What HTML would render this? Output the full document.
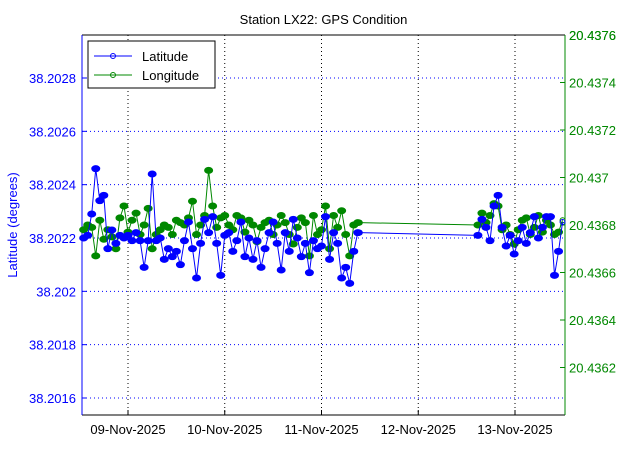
<!DOCTYPE html>
<html><head><meta charset="utf-8"><style>
body{margin:0;background:#fff;}
svg text{font-family:"Liberation Sans",sans-serif;font-size:13px;}
</style></head><body>
<svg id="c" width="623" height="466" xmlns="http://www.w3.org/2000/svg"></svg>
<script>
const latA=[38.20220,38.20221,38.20229,38.20246,38.20234,38.20236,38.20216,38.20223,38.20218,38.20221,38.20220,38.20221,38.20219,38.20222,38.20219,38.20209,38.20219,38.20244,38.20219,38.20220,38.20212,38.20216,38.20213,38.20215,38.20210,38.20219,38.20226,38.20216,38.20205,38.20218,38.20227,38.20222,38.20228,38.20218,38.20206,38.20221,38.20222,38.20215,38.20219,38.20226,38.20213,38.20220,38.20212,38.20219,38.20209,38.20216,38.20222,38.20226,38.20218,38.20208,38.20222,38.20215,38.20227,38.20220,38.20213,38.20218,38.20207,38.20219,38.20216,38.20217,38.20228,38.20212,38.20222,38.20218,38.20205,38.20209,38.20203,38.20215,38.20222];
const lonA=[20.43678,20.43680,20.43679,20.43667,20.43682,20.43674,20.43678,20.43675,20.43670,20.43683,20.43688,20.43677,20.43682,20.43685,20.43676,20.43680,20.43687,20.43670,20.43676,20.43678,20.43680,20.43679,20.43676,20.43682,20.43681,20.43680,20.43683,20.43690,20.43676,20.43680,20.43684,20.43703,20.43688,20.43679,20.43683,20.43684,20.43680,20.43678,20.43684,20.43683,20.43677,20.43682,20.43680,20.43673,20.43679,20.43681,20.43682,20.43676,20.43680,20.43684,20.43681,20.43676,20.43672,20.43679,20.43683,20.43681,20.43667,20.43684,20.43676,20.43678,20.43688,20.43670,20.43684,20.43679,20.43686,20.43676,20.43667,20.43680,20.43681];
const latB=[38.20221,38.20227,38.20224,38.20219,38.20232,38.20236,38.20224,38.20217,38.20221,38.20214,38.20219,38.20224,38.20218,38.20222,38.20228,38.20220,38.20224,38.20228,38.20228,38.20206,38.20215,38.20226];
const lonB=[20.43680,20.43685,20.43681,20.43684,20.43689,20.43688,20.43678,20.43680,20.43676,20.43672,20.43678,20.43682,20.43683,20.43676,20.43679,20.43684,20.43677,20.43682,20.43680,20.43676,20.43677,20.43682];
const startA=-11, stepA=1, startB=86.8, stepB=1.0;
const dateLabels=["09-Nov-2025","10-Nov-2025","11-Nov-2025","12-Nov-2025","13-Nov-2025"];
const latTicks=[38.2016,38.2018,38.202,38.2022,38.2024,38.2026,38.2028];
const lonTicks=[20.4362,20.4364,20.4366,20.4368,20.437,20.4372,20.4374,20.4376];

const L=82,R=565,T=35,B=415;
const xS=h=>128+h*96.75/24;
const yL=v=>238-(v-38.2022)*266667;
const yR=v=>T+(20.4376-v)*(380/0.0016);
const svg=document.getElementById('c');
const NS='http://www.w3.org/2000/svg';
function mk(tag,attrs,name,parent){const e=document.createElementNS(NS,tag);for(const k in attrs)e.setAttribute(k,attrs[k]);


(parent||svg).appendChild(e);return e;}
function txt(x,y,s,attrs,name){const t=mk('text',Object.assign({x:x,y:y},attrs),name);t.textContent=s;return t;}

mk('rect',{x:L,y:T,width:R-L,height:B-T,fill:'#fff'},'plot-area');
// vertical grid + x ticks
dateLabels.forEach((d,i)=>{const x=xS(i*24);
mk('line',{x1:x,y1:T,x2:x,y2:B,stroke:'#000','stroke-dasharray':'1,3'},'x-grid-line');
mk('line',{x1:x,y1:B,x2:x,y2:B-5,stroke:'#000'},'x-tick');
txt(x,434,d,{'text-anchor':'middle',fill:'#000'},'x-tick-label');});
// left ticks
latTicks.forEach(v=>{const y=yL(v);
mk('line',{x1:L,y1:y,x2:R,y2:y,stroke:'#00f','stroke-dasharray':'1,3'},'y-grid-line');
mk('line',{x1:L,y1:y,x2:L+5,y2:y,stroke:'#00f'},'left-tick');
txt(L-6,y+5,String(v),{'text-anchor':'end',fill:'#00f'},'left-tick-label');});
lonTicks.forEach(v=>{const y=yR(v);
mk('line',{x1:R,y1:y,x2:R-5,y2:y,stroke:'#080'},'right-tick');
txt(R+4,y+5,String(v),{fill:'#080'},'right-tick-label');});
txt(L-6,yR(20.4376)+5,'',{},'spacer');
txt(R+4,yR(20.4376)+5,'20.4376',{fill:'#080'},'right-tick-label');
// axes box
mk('line',{x1:L,y1:T,x2:R,y2:T,stroke:'#000'},'top-border');
mk('line',{x1:L,y1:B,x2:R,y2:B,stroke:'#000'},'bottom-axis');
mk('line',{x1:L,y1:T,x2:L,y2:B,stroke:'#00f'},'left-axis');
mk('line',{x1:R,y1:T,x2:R,y2:B,stroke:'#080'},'right-axis');

function series(arrA,arrB,yf,col,name,linkVal){
 const pts=[];arrA.forEach((v,i)=>pts.push([xS(startA+i*stepA),yf(v)]));
 pts.push([xS(startA+arrA.length*stepA-0.5),yf(linkVal)]);
 arrB.forEach((v,i)=>pts.push([xS(startB+i*stepB),yf(v)]));
 mk('polyline',{points:pts.map(p=>p.join(',')).join(' '),fill:'none',stroke:col,'stroke-width':1},name+'-line');
 pts.forEach((p,i)=>{const open=(i===arrA.length||i===pts.length-1);
  mk('ellipse',{cx:p[0],cy:p[1],rx:open?2.5:4,ry:open?2.5:3,fill:open?'none':col,stroke:col},name+'-point');});
}
series(lonA,lonB,yR,'#080','longitude',20.43681);
series(latA,latB,yL,'#00f','latitude',38.20222);

txt((L+R)/2,24,'Station LX22: GPS Condition',{'text-anchor':'middle',fill:'#000'},'chart-title');
txt(17,225,'Latitude (degrees)',{'text-anchor':'middle',fill:'#00f',transform:'rotate(-90 17 225)'},'y-axis-title');
// legend
mk('rect',{x:88,y:41,width:127,height:47,fill:'#fff',stroke:'#000'},'legend');
mk('line',{x1:94,y1:56,x2:132,y2:56,stroke:'#00f'},'legend-latitude-line');
mk('circle',{cx:113,cy:56,r:2.5,fill:'none',stroke:'#00f'},'legend-latitude-marker');
txt(142,61,'Latitude',{fill:'#000'},'legend-latitude-label');
mk('line',{x1:94,y1:75,x2:132,y2:75,stroke:'#080'},'legend-longitude-line');
mk('circle',{cx:113,cy:75,r:2.5,fill:'none',stroke:'#080'},'legend-longitude-marker');
txt(142,80,'Longitude',{fill:'#000'},'legend-longitude-label');
</script>
</body></html>
